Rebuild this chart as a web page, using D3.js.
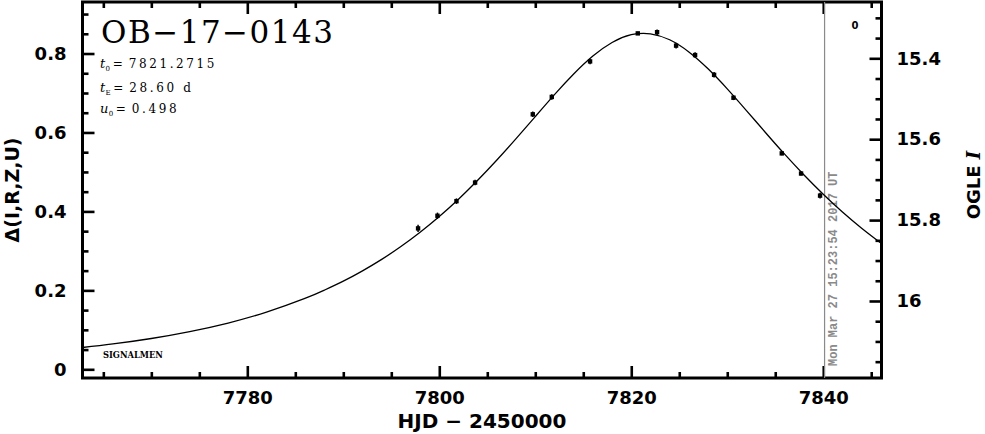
<!DOCTYPE html>
<html><head><meta charset="utf-8">
<script src="https://cdn.jsdelivr.net/npm/d3@7"></script>
<style>
html,body{margin:0;padding:0;background:#fff;}
svg{display:block;}
</style></head>
<body>
<svg id="chart" width="985" height="434"></svg>
<script>
// ---- data ----
const obsDays = [7797.79, 7799.81, 7801.79, 7803.73, 7809.74, 7811.72, 7815.71, 7820.68,
                 7822.69, 7824.67, 7826.65, 7828.63, 7830.65, 7835.68, 7837.69, 7839.67];
const obsDelta = [0.357, 0.389, 0.426, 0.473, 0.646, 0.690, 0.780, 0.851,
                  0.854, 0.820, 0.796, 0.746, 0.688, 0.547, 0.496, 0.440];
const obsErr = [0.009, 0.008, 0.007, 0.007, 0.007, 0.007, 0.007, 0.004,
                0.007, 0.007, 0.007, 0.007, 0.006, 0.005, 0.005, 0.007];
const modelDays = [7762.83, 7766, 7770, 7774, 7778, 7782, 7786, 7788, 7790, 7792, 7794, 7796,
                   7798, 7800, 7802, 7804, 7806, 7808, 7810, 7812, 7814, 7816, 7818, 7820,
                   7822, 7824, 7826, 7828, 7830, 7832, 7834, 7836, 7838, 7840, 7842, 7844, 7846.07];
const modelDelta = [0.0553, 0.0643, 0.0781, 0.0955, 0.1173, 0.1448, 0.1795, 0.2002, 0.2233, 0.2494, 0.2785, 0.3110,
                    0.3472, 0.3871, 0.4309, 0.4788, 0.5302, 0.5844, 0.6402, 0.6958, 0.7480, 0.7935, 0.8279, 0.8476,
                    0.8500, 0.8348, 0.8040, 0.7612, 0.7104, 0.6554, 0.5994, 0.5444, 0.4923, 0.4435, 0.3985, 0.3575, 0.3186];
const xMajorTicks = [7780, 7800, 7820, 7840];
const xMinorTicks = [7765, 7770, 7775, 7785, 7790, 7795, 7805, 7810, 7815, 7825, 7830, 7835, 7845];
const yMajorTicks = [0, 0.2, 0.4, 0.6, 0.8];
const yMinorTicks = [0.05, 0.1, 0.15, 0.25, 0.3, 0.35, 0.45, 0.5, 0.55, 0.65, 0.7, 0.75, 0.85, 0.9];
const rMajorTicks = [15.4, 15.6, 15.8, 16];
const rMinorTicks = [15.3, 15.35, 15.45, 15.5, 15.55, 15.65, 15.7, 15.75, 15.85, 15.9, 15.95, 16.05, 16.1, 16.15];
const title = "OB\u221217\u22120143";
const params = [["t", "0", "7821.2715"], ["t", "E", "28.60 d"], ["u", "0", "0.498"]];
const dateStamp = "Mon Mar 27 15:23:54 2017 UT";
const dateStampDay = 7840.14;

// ---- layout ----
const L = 82.5, R = 881.5, T = 2, B = 378;
const svg = d3.select("#chart");
svg.append("rect").attr("width", 985).attr("height", 434).attr("fill", "#fff");

const x = d3.scaleLinear().domain([7762.83, 7846.07]).range([L, R]);
const y = d3.scaleLinear().domain([-0.022, 0.9305]).range([B, T]);
const yR = d3.scaleLinear().domain([16.1904, 15.2608]).range([B, T]);

const tickFont = "'DejaVu Sans', sans-serif";

function styleAxis(g) {
  g.select(".domain").remove();
  g.selectAll("line").attr("stroke", "#000").attr("stroke-width", 2.6);
  g.selectAll("text").attr("font-family", tickFont).attr("font-weight", "bold")
    .attr("font-size", 18).attr("fill", "#000");
}

// bottom
svg.append("g").attr("transform", `translate(0,${B})`)
  .call(d3.axisBottom(x).tickValues(xMajorTicks).tickSize(-12).tickPadding(13).tickFormat(d3.format("d")))
  .call(styleAxis);
svg.append("g").attr("transform", `translate(0,${B})`)
  .call(d3.axisBottom(x).tickValues(xMinorTicks).tickSize(-6).tickFormat(""))
  .call(styleAxis);
// top
svg.append("g").attr("transform", `translate(0,${T})`)
  .call(d3.axisTop(x).tickValues(xMajorTicks).tickSize(-12).tickFormat(""))
  .call(styleAxis);
svg.append("g").attr("transform", `translate(0,${T})`)
  .call(d3.axisTop(x).tickValues(xMinorTicks).tickSize(-6).tickFormat(""))
  .call(styleAxis);
// left
svg.append("g").attr("transform", `translate(${L},0)`)
  .call(d3.axisLeft(y).tickValues(yMajorTicks).tickSize(-12).tickPadding(16).tickFormat(d => d === 0 ? "0" : d3.format(".1f")(d)))
  .call(styleAxis);
svg.append("g").attr("transform", `translate(${L},0)`)
  .call(d3.axisLeft(y).tickValues(yMinorTicks).tickSize(-6).tickFormat(""))
  .call(styleAxis);
// right
svg.append("g").attr("transform", `translate(${R},0)`)
  .call(d3.axisRight(yR).tickValues(rMajorTicks).tickSize(-12).tickPadding(15).tickFormat(d => d === 16 ? "16" : d3.format(".1f")(d)))
  .call(styleAxis);
svg.append("g").attr("transform", `translate(${R},0)`)
  .call(d3.axisRight(yR).tickValues(rMinorTicks).tickSize(-6).tickFormat(""))
  .call(styleAxis);

// frame
svg.append("rect").attr("x", L).attr("y", T).attr("width", R - L).attr("height", B - T)
  .attr("fill", "none").attr("stroke", "#000").attr("stroke-width", 3);

// date stamp line
svg.append("line").attr("x1", x(dateStampDay)).attr("x2", x(dateStampDay)).attr("y1", T).attr("y2", B)
  .attr("stroke", "#8a8a8a").attr("stroke-width", 1.2);
svg.append("text").attr("transform", `translate(${x(dateStampDay) + 12.5},366) rotate(-90)`)
  .attr("font-family", "'Liberation Mono', monospace").attr("font-weight", "bold").attr("font-size", 12)
  .attr("fill", "#8a8a8a").text(dateStamp);

// model curve
svg.append("clipPath").attr("id", "clip").append("rect")
  .attr("x", L).attr("y", T).attr("width", R - L).attr("height", B - T);
const line = d3.line().x((d, i) => x(modelDays[i])).y(d => y(d)).curve(d3.curveNatural);
svg.append("path").attr("d", line(modelDelta)).attr("fill", "none").attr("stroke", "#000")
  .attr("stroke-width", 1.3).attr("clip-path", "url(#clip)");

// data points
const pts = svg.append("g");
obsDays.forEach((d, i) => {
  pts.append("line").attr("x1", x(d)).attr("x2", x(d))
    .attr("y1", y(obsDelta[i] - obsErr[i])).attr("y2", y(obsDelta[i] + obsErr[i]))
    .attr("stroke", "#000").attr("stroke-width", 1.5);
  pts.append("rect").attr("x", x(d) - 2.2).attr("y", y(obsDelta[i]) - 2.2)
    .attr("width", 4.4).attr("height", 4.4).attr("fill", "#000");
});

// title
svg.append("text").attr("x", 101).attr("y", 43)
  .attr("font-family", "'DejaVu Serif', serif").attr("font-size", 31).attr("letter-spacing", 1.5)
  .attr("fill", "#000").text(title);

// parameters
const baselines = [68, 91.5, 113];
params.forEach((p, i) => {
  const g = svg.append("g").attr("font-family", "'DejaVu Serif', serif").attr("fill", "#000");
  const main = g.append("text").attr("x", 100).attr("y", baselines[i]).attr("font-size", 13)
    .attr("font-style", "italic").text(p[0]);
  const mw = main.node().getComputedTextLength();
  const sub = g.append("text").attr("x", 100 + mw + 0.3).attr("y", baselines[i] + 3).attr("font-size", 7).text(p[1]);
  const sw = sub.node().getComputedTextLength();
  const eqX = Math.max(112, 100 + mw + sw + 3);
  g.append("text").attr("x", eqX).attr("y", baselines[i]).attr("font-size", 12).text("=");
  g.append("text").attr("x", eqX + 16).attr("y", baselines[i]).attr("font-size", 12)
    .attr("letter-spacing", 2.6).text(p[2]);
});

// SIGNALMEN
svg.append("text").attr("x", 103).attr("y", 358).attr("font-family", "'DejaVu Serif', serif")
  .attr("font-weight", "bold").attr("font-size", 8.3).attr("fill", "#000").text("SIGNALMEN");

// small marker label at top right
svg.append("text").attr("x", 855).attr("y", 29).attr("text-anchor", "middle")
  .attr("font-family", tickFont).attr("font-weight", "bold").attr("font-size", 10).attr("fill", "#000").text("0");

// axis labels
svg.append("text").attr("x", 482).attr("y", 428).attr("text-anchor", "middle")
  .attr("font-family", tickFont).attr("font-weight", "bold").attr("font-size", 20).attr("fill", "#000")
  .text("HJD \u2212 2450000");
svg.append("text").attr("transform", "translate(19,190) rotate(-90)").attr("text-anchor", "middle")
  .attr("font-family", tickFont).attr("font-weight", "bold").attr("font-size", 19).attr("fill", "#000")
  .text("\u0394(I,R,Z,U)");
const rl = svg.append("text").attr("transform", "translate(980,185) rotate(-90)").attr("text-anchor", "middle")
  .attr("font-family", tickFont).attr("font-weight", "bold").attr("font-size", 18).attr("fill", "#000");
rl.append("tspan").text("OGLE ");
rl.append("tspan").attr("font-family", "'DejaVu Serif', serif").attr("font-style", "italic").text("I");
</script>
</body></html>
